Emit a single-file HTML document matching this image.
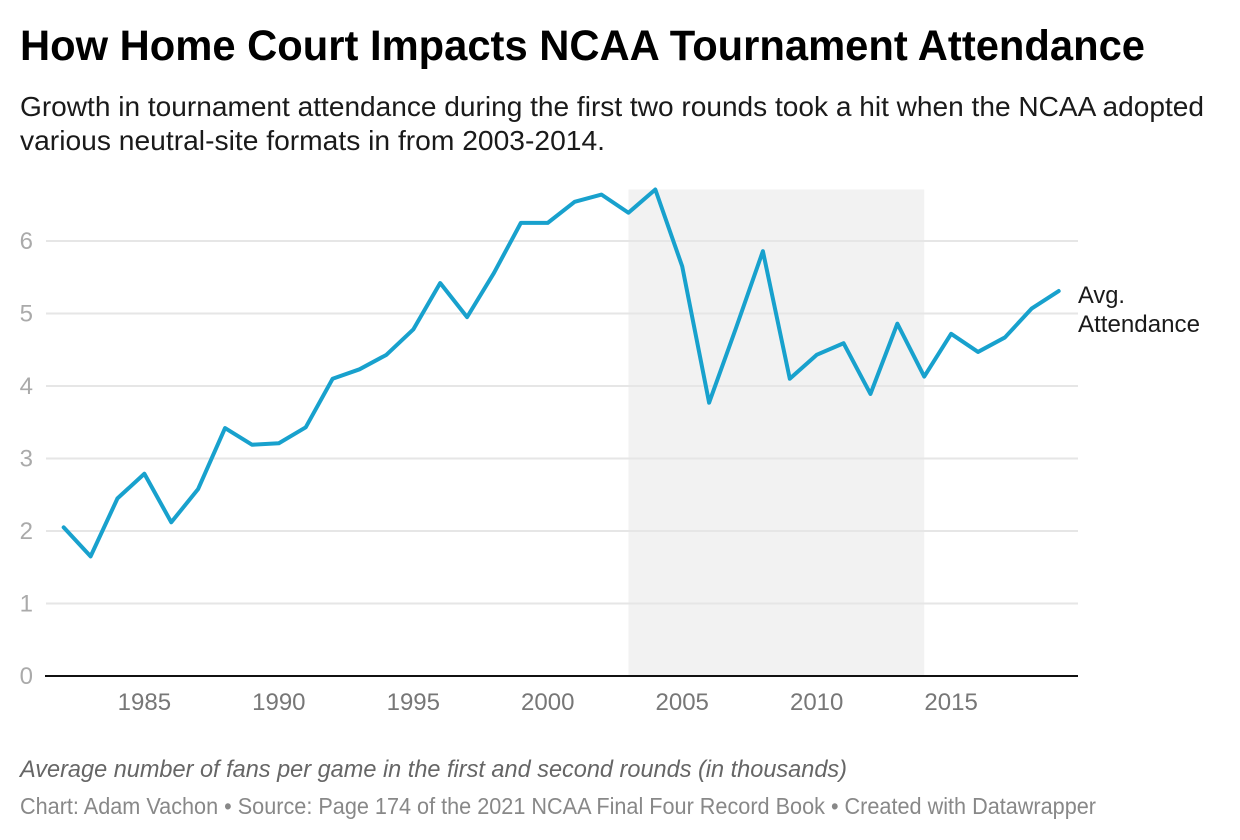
<!DOCTYPE html>
<html lang="en">
<head>
<meta charset="utf-8">
<title>How Home Court Impacts NCAA Tournament Attendance</title>
<style>
  html, body { margin: 0; padding: 0; background: #fff; }
  svg { display: block; font-family: "Liberation Sans", sans-serif; }
</style>
</head>
<body>
<svg id="chart" xmlns="http://www.w3.org/2000/svg" width="1240" height="840" viewBox="0 0 1240 840">
  <rect width="1240" height="840" fill="#ffffff"/>
  <text x="20" y="60" font-size="43" font-weight="700" fill="#000" textLength="1125" lengthAdjust="spacingAndGlyphs">How Home Court Impacts NCAA Tournament Attendance</text>
  <text x="20" y="116" font-size="28" fill="#1a1a1a" textLength="1184" lengthAdjust="spacingAndGlyphs">Growth in tournament attendance during the first two rounds took a hit when the NCAA adopted</text>
  <text x="20" y="150" font-size="28" fill="#1a1a1a" textLength="585" lengthAdjust="spacingAndGlyphs">various neutral-site formats in from 2003-2014.</text>
  <g id="plot"></g>
  <text x="1078" y="303" font-size="24" fill="#1a1a1a" textLength="47" lengthAdjust="spacingAndGlyphs">Avg.</text>
  <text x="1078" y="332" font-size="24" fill="#1a1a1a" textLength="122" lengthAdjust="spacingAndGlyphs">Attendance</text>
  <text x="20" y="777" font-size="24" font-style="italic" fill="#666666" textLength="827" lengthAdjust="spacingAndGlyphs">Average number of fans per game in the first and second rounds (in thousands)</text>
  <text x="20" y="814" font-size="23" fill="#888888" textLength="1076" lengthAdjust="spacingAndGlyphs">Chart: Adam Vachon • Source: Page 174 of the 2021 NCAA Final Four Record Book • Created with Datawrapper</text>
</svg>
<script>
const years = [1982,1983,1984,1985,1986,1987,1988,1989,1990,1991,1992,1993,1994,1995,1996,1997,1998,1999,2000,2001,2002,2003,2004,2005,2006,2007,2008,2009,2010,2011,2012,2013,2014,2015,2016,2017,2018,2019];
const attendance = [2.05,1.65,2.45,2.79,2.12,2.58,3.42,3.19,3.21,3.43,4.10,4.23,4.43,4.78,5.42,4.95,5.56,6.25,6.25,6.54,6.64,6.39,6.71,5.65,3.77,4.80,5.86,4.10,4.43,4.59,3.89,4.86,4.13,4.72,4.47,4.67,5.07,5.31];
const yTicks = [0,1,2,3,4,5,6];
const xTicks = [1985,1990,1995,2000,2005,2010,2015];
const neutralSiteYears = [2003,2014];

const NS = 'http://www.w3.org/2000/svg';
const plot = document.getElementById('plot');
const xLeft = 63.7, xRight = 1058.7, yZero = 676, yPerUnit = 72.5;

function xScale(year) {
  return xLeft + (year - years[0]) * (xRight - xLeft) / (years[years.length - 1] - years[0]);
}
function yScale(value) {
  return yZero - value * yPerUnit;
}
function make(tag, attrs) {
  const el = document.createElementNS(NS, tag);
  for (const k in attrs) el.setAttribute(k, attrs[k]);
  plot.appendChild(el);
  return el;
}

const shadeTop = yScale(Math.max.apply(null, attendance));
const shade = make('rect', {
  x: xScale(neutralSiteYears[0]), y: shadeTop,
  width: xScale(neutralSiteYears[1]) - xScale(neutralSiteYears[0]),
  height: yZero - shadeTop, fill: '#f2f2f2'
});



yTicks.forEach(function (t) {
  if (t !== 0) {
    const grid = make('line', {
      x1: 46, x2: 1078, y1: yScale(t), y2: yScale(t),
      stroke: '#e6e6e6', 'stroke-width': 2
    });
    
    
  }
  const label = make('text', {
    x: 33, y: yScale(t) + 8, 'text-anchor': 'end',
    'font-size': 24, fill: '#aaaaaa'
  });
  label.textContent = t;
  
  
});

const baseline = make('line', {
  x1: 45, x2: 1078, y1: yZero, y2: yZero, stroke: '#111111', 'stroke-width': 2
});



xTicks.forEach(function (t) {
  const label = make('text', {
    x: xScale(t), y: 710, 'text-anchor': 'middle',
    'font-size': 24, fill: '#777777'
  });
  label.textContent = t;
  
  
});

const pts = years.map(function (yr, i) {
  return xScale(yr).toFixed(2) + ',' + yScale(attendance[i]).toFixed(2);
}).join(' ');
const series = make('polyline', {
  points: pts, fill: 'none', stroke: '#18a1cd', 'stroke-width': 4,
  'stroke-linejoin': 'round', 'stroke-linecap': 'round'
});


</script>
</body>
</html>
